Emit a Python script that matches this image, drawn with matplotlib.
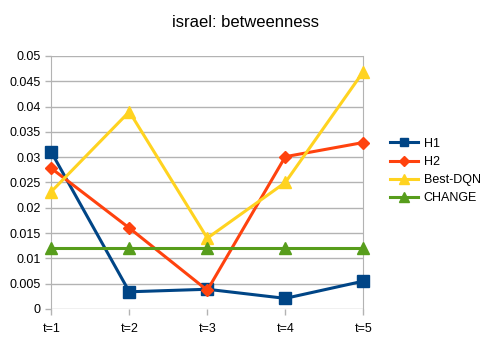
import matplotlib
matplotlib.use('Agg')
import matplotlib.pyplot as plt

plt.rcParams['font.family'] = ['Liberation Sans', 'DejaVu Sans']

# data
steps = ['t=1', 't=2', 't=3', 't=4', 't=5']
h1 = [0.031, 0.0034, 0.0039, 0.0021, 0.0055]
h2 = [0.0278, 0.016, 0.0037, 0.0301, 0.0329]
best_dqn = [0.0232, 0.039, 0.014, 0.025, 0.0469]
change = [0.012, 0.012, 0.012, 0.012, 0.012]
yticks = [0, 0.005, 0.01, 0.015, 0.02, 0.025, 0.03, 0.035, 0.04, 0.045, 0.05]
ytick_labels = ['0', '0.005', '0.01', '0.015', '0.02', '0.025', '0.03', '0.035', '0.04', '0.045', '0.05']

fig = plt.figure(figsize=(4.92, 3.4), dpi=100)
ax = fig.add_axes([0.1043, 0.0912, 0.6341, 0.7441])

x = range(len(steps))
ax.plot(x, h1, color='#004586', lw=2.2, marker='s', ms=8, label='H1', clip_on=False, zorder=3)
ax.plot(x, h2, color='#ff420e', lw=2.2, marker='D', ms=6.5, label='H2', clip_on=False, zorder=3)
ax.plot(x, best_dqn, color='#ffd320', lw=2.2, marker='^', ms=9, label='Best-DQN', clip_on=False, zorder=3)
ax.plot(x, change, color='#579d1c', lw=2.2, marker='^', ms=9, label='CHANGE', clip_on=False, zorder=3)

ax.set_xlim(0, len(steps) - 1)
ax.set_ylim(0, 0.05)
ax.set_xticks(list(x))
ax.set_xticklabels(steps)
ax.set_yticks(yticks)
ax.set_yticklabels(ytick_labels)
ax.yaxis.grid(True, color='#b3b3b3', lw=1)
ax.set_axisbelow(True)
ax.tick_params(axis='both', colors='#b3b3b3', labelcolor='black', labelsize=9, length=4, width=1)
ax.tick_params(axis='x', pad=6)
for side in ['left', 'right']:
    ax.spines[side].set_color('#b3b3b3')
for side in ['top', 'bottom']:
    ax.spines[side].set_visible(False)

fig.text(0.5, 0.935, 'israel: betweenness', ha='center', va='center', fontsize=12)

fig.legend(loc='center left', bbox_to_anchor=(0.77, 0.497), frameon=False, fontsize=9,
           handlelength=2.2, labelspacing=0.5, handletextpad=0.5, markerscale=0.75)

fig.savefig('out.png', dpi=100)
